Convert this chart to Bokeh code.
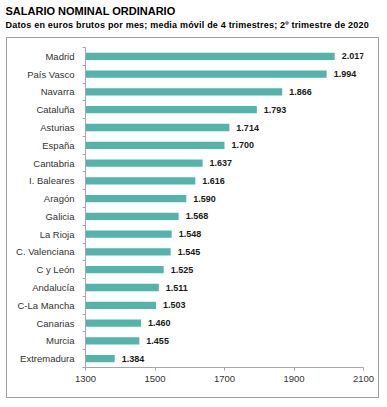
from bokeh.plotting import figure
from bokeh.models import Range1d, FixedTicker, ColumnDataSource, Div
from bokeh.layouts import column
from bokeh.core.properties import value
from bokeh.embed import file_html
from bokeh.resources import INLINE

regions = ["Madrid", "País Vasco", "Navarra", "Cataluña", "Asturias", "España",
           "Cantabria", "I. Baleares", "Aragón", "Galicia", "La Rioja",
           "C. Valenciana", "C y León", "Andalucía", "C-La Mancha", "Canarias",
           "Murcia", "Extremadura"]
salaries = [2017, 1994, 1866, 1793, 1714, 1700, 1637, 1616, 1590, 1568, 1548,
            1545, 1525, 1511, 1503, 1460, 1455, 1384]
x_ticks = [1300, 1500, 1700, 1900, 2100]
title_text = "SALARIO NOMINAL ORDINARIO"
subtitle_text = "Datos en euros brutos por mes; media móvil de 4 trimestres; 2º trimestre de 2020"

FONT = "Liberation Sans"
BAR = "#55b4aa"

pos = list(range(len(regions)))
labels = [f"{v:,}".replace(",", ".") for v in salaries]
src = ColumnDataSource(dict(y=pos, v=salaries, lab=labels))

p = figure(width=373, height=361, output_backend="svg", toolbar_location=None,
           x_range=Range1d(1300, 2100), y_range=Range1d(len(regions) - 0.5, -0.5),
           min_border_left=78, min_border_right=17, min_border_top=9,
           min_border_bottom=32, outline_line_color=None,
           background_fill_color="white", border_fill_color="white",
           margin=(0, 0, 0, 6))
p.styles = {"border": "1px solid #a0a0a0"}

p.hbar(y="y", right="v", left=1300, height=0.41, source=src,
       fill_color=BAR, line_color=None)
p.text(x="v", y="y", text="lab", source=src, x_offset=7,
       text_baseline="middle", text_align="left",
       text_font=value(FONT), text_font_style="bold",
       text_font_size="9px", text_color="#1a1a1a")

p.xgrid.visible = False
p.ygrid.visible = False

xa = p.xaxis[0]
xa.ticker = FixedTicker(ticks=x_ticks)
xa.axis_line_color = "#a6a6a6"
xa.major_tick_line_color = "#a6a6a6"
xa.major_tick_out = 3
xa.major_tick_in = 0
xa.minor_tick_line_color = None
xa.major_label_text_font = FONT
xa.major_label_text_font_size = "9.5px"
xa.major_label_text_color = "#333333"
xa.major_label_standoff = 5

ya = p.yaxis[0]
ya.ticker = FixedTicker(ticks=pos, minor_ticks=[i - 0.5 for i in range(len(regions) + 1)])
ya.major_label_overrides = {i: r for i, r in zip(pos, regions)}
ya.axis_line_color = "#a6a6a6"
ya.major_tick_line_color = None
ya.major_tick_out = 0
ya.major_tick_in = 0
ya.minor_tick_line_color = "#a6a6a6"
ya.minor_tick_out = 3
ya.minor_tick_in = 0
ya.major_label_text_font = FONT
ya.major_label_text_font_size = "9.5px"
ya.major_label_text_color = "#333333"
ya.major_label_standoff = 8

head = Div(width=387, height=37, margin=(0, 0, 0, 0), text=(
    f'<div style="font-family:\'{FONT}\';font-weight:bold;color:#000;padding:5px 0 0 5.5px;">'
    f'<div style="font-size:11px;line-height:12px;white-space:nowrap;">{title_text}</div>'
    f'<div style="font-size:9px;line-height:11px;margin-top:3px;letter-spacing:0.2px;white-space:nowrap;">{subtitle_text}</div>'
    '</div>'))

layout = column(head, p, spacing=0)
open("out.html", "w").write(file_html(layout, INLINE))
